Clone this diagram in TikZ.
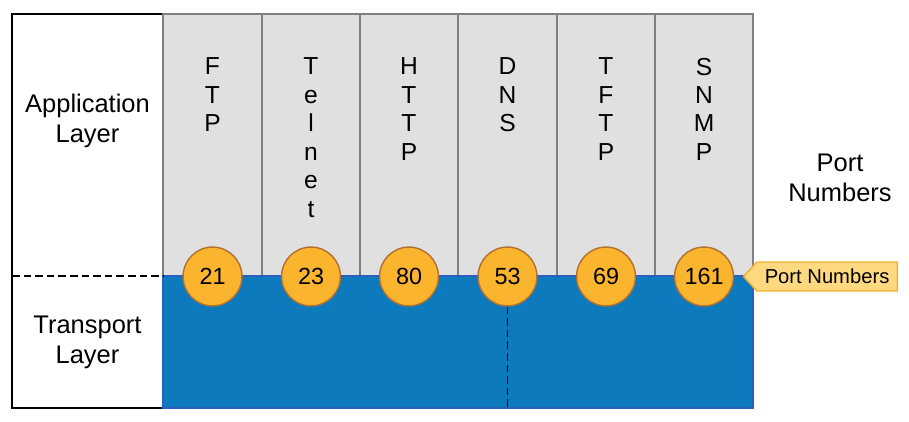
\documentclass[tikz,border=0pt]{standalone}
\usepackage{fontspec}
\setmainfont{Liberation Sans}
\usetikzlibrary{shapes.symbols}
\definecolor{colgray}{HTML}{E0E0E0}
\definecolor{colline}{HTML}{808080}
\definecolor{tcpblue}{HTML}{0E7ABE}
\definecolor{tcpedge}{HTML}{2A5FC0}
\definecolor{portfill}{HTML}{FBB42E}
\definecolor{portedge}{HTML}{B07030}
\definecolor{notefill}{HTML}{FFD97F}
\definecolor{noteedge}{HTML}{F2AF30}

\begin{document}
\begin{tikzpicture}[x=0.02cm, y=-0.02cm,
    stack/.style={anchor=north, inner sep=0pt, align=center, font=\fontsize{14}{16.2}\selectfont},
    layer/.style={inner sep=0pt, align=center, font=\fontsize{14.5}{17}\selectfont},
    port/.style={circle, draw=portedge, fill=portfill, line width=0.8pt, minimum size=33.5pt, inner sep=0pt, font=\fontsize{13.3}{15}\selectfont},
    portnote/.style={signal, signal to=west, signal pointer angle=95, draw=noteedge, fill=notefill, line width=0.8pt, minimum height=16.5pt, inner xsep=4.5pt, inner ysep=0pt, font=\fontsize{11.5}{13}\selectfont},
    dashline/.style={line width=1pt, dash pattern=on 4.3pt off 2.3pt, black}]
			%%%%% START %%%%%
			\useasboundingbox (0,0) rectangle (909,422);
			
			\draw[line width=0.9pt, fill=white] (12,14) rectangle (163,408);
			
			\draw[colline, fill=colgray, line width=0.8pt] (163,14) rectangle (262,276);
			\draw[colline, fill=colgray, line width=0.8pt] (262,14) rectangle (360,276);
			\draw[colline, fill=colgray, line width=0.8pt] (360,14) rectangle (458,276);
			\draw[colline, fill=colgray, line width=0.8pt] (458,14) rectangle (557,276);
			\draw[colline, fill=colgray, line width=0.8pt] (557,14) rectangle (655,276);
			\draw[colline, fill=colgray, line width=0.8pt] (655,14) rectangle (753,276);
			
			\draw[fill=tcpblue, draw=tcpedge, line width=0.6pt] (163,276) rectangle (753,408);
			
			\node[stack] (ftp) at (212.5,57.5) {F\\T\\P};
			\node[stack] (telnet) at (311,57.5) {T\\e\\l\\n\\e\\t};
			\node[stack] (http) at (409,57.5) {H\\T\\T\\P};
			\node[stack] (dns) at (507.5,57.5) {D\\N\\S};
			\node[stack] (tftp) at (606,57.5) {T\\F\\T\\P};
			\node[stack] (snmp) at (704,57.5) {S\\N\\M\\P};
			
			\node[layer] (app) at (87.5,121) {Application\\Layer};
			\node[layer] (trans) at (87.5,342) {Transport\\Layer};
			\node[layer] (numbers) at (840,178) {Port\\Numbers};
			
			% boundary between the layers
			\coordinate (bleft) at (12,276);
			\coordinate (bright) at (163,276);
			\draw[dashline] (bleft) -- (bright);
			
			\node[port] (p21) at (212.5,276.5) {21};
			\node[port] (p23) at (311,276.5) {23};
			\node[port] (p80) at (409,276.5) {80};
			\node[port] (p53) at (507.5,276.5) {53};
			\node[port] (p69) at (606,276.5) {69};
			\node[port] (p161) at (704,276.5) {161};
			
			\coordinate (dnsfoot) at (507.5,408);
			\draw[dashline] (p53) -- (dnsfoot);
			
			\node[portnote, anchor=east] (note) at (898,276.5) {Port Numbers};
			
			%%%%% END %%%%%
\end{tikzpicture}
\end{document}
